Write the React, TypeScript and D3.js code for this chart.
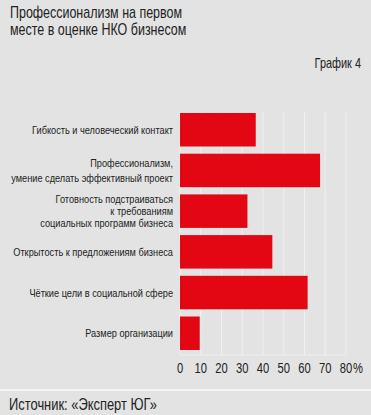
import * as d3 from "d3";
import React from "react";

const categories = [
  ["Гибкость и человеческий контакт"],
  ["Профессионализм,", "умение сделать эффективный проект"],
  ["Готовность подстраиваться", "к требованиям", "социальных программ бизнеса"],
  ["Открытость к предложениям бизнеса"],
  ["Чёткие цели в социальной сфере"],
  ["Размер организации"],
];
const values = [36.5, 67.5, 32.5, 44.5, 61.5, 9.5];
const ticks = [0, 10, 20, 30, 40, 50, 60, 70, 80];

const W = 371;
const H = 415;
const FONT = "'Liberation Sans', Arial, sans-serif";
const INK = "#222";

// narrow text: no condensed face installed, so squeeze horizontally
const CText = ({ x, y, sx = 0.78, size, anchor = "start", children }: any) => (
  <g transform={`translate(${x},${y}) scale(${sx},1)`}>
    <text x={0} y={0} textAnchor={anchor} fontFamily={FONT} fontSize={size} fill={INK}>
      {children}
    </text>
  </g>
);

export default function App() {
  const x = d3.scaleLinear().domain([0, 80]).range([180, 346]);
  const y = d3
    .scaleBand<number>()
    .domain(d3.range(categories.length))
    .range([109.4, 353.6])
    .paddingInner(0.177)
    .paddingOuter(0.0885);
  const bw = y.bandwidth();

  return (
    <svg
      width={W}
      height={H}
      style={{ position: "absolute", left: 0, top: 0, display: "block" }}
    >
      <rect x={0} y={0} width={W} height={H} fill="#e3e3e3" />
      <CText x={10} y={18} size={16} sx={0.78}>
        Профессионализм на первом
      </CText>
      <CText x={10} y={35} size={16} sx={0.78}>
        месте в оценке НКО бизнесом
      </CText>
      <CText x={361} y={68} size={14} sx={0.78} anchor="end">
        График 4
      </CText>

      {/* grid */}
      {ticks.map((t) => (
        <line
          key={t}
          x1={x(t)}
          x2={x(t)}
          y1={112}
          y2={355}
          stroke="#f0f0f0"
          strokeWidth={1}
        />
      ))}
      <line x1={x(0)} x2={x(80)} y1={355} y2={355} stroke="#ededed" />

      {values.map((v, i) => (
        <rect
          key={i}
          x={x(0)}
          y={y(i)}
          width={x(v) - x(0)}
          height={bw}
          fill="#e30613"
        />
      ))}

      {categories.map((lines, i) => {
        const cy = (y(i) as number) + bw / 2;
        const lh = lines.length === 2 ? 15 : 11.8;
        const start = cy - ((lines.length - 1) * lh) / 2;
        return lines.map((l, j) => (
          <CText key={`${i}-${j}`} x={173} y={start + j * lh + 4} size={11.5} sx={0.8} anchor="end">
            {l}
          </CText>
        ));
      })}

      {ticks.map((t) => (
        <CText key={t} x={x(t)} y={373} size={14} sx={0.8} anchor="middle">
          {t}
        </CText>
      ))}
      <CText x={363} y={373} size={14} sx={0.8} anchor="end">
        %
      </CText>

      <line x1={0} x2={W} y1={390} y2={390} stroke="#f4f4f4" strokeWidth={2} />
      <CText x={9} y={410} size={17} sx={0.76}>
        Источник: «Эксперт ЮГ»
      </CText>
    </svg>
  );
}
